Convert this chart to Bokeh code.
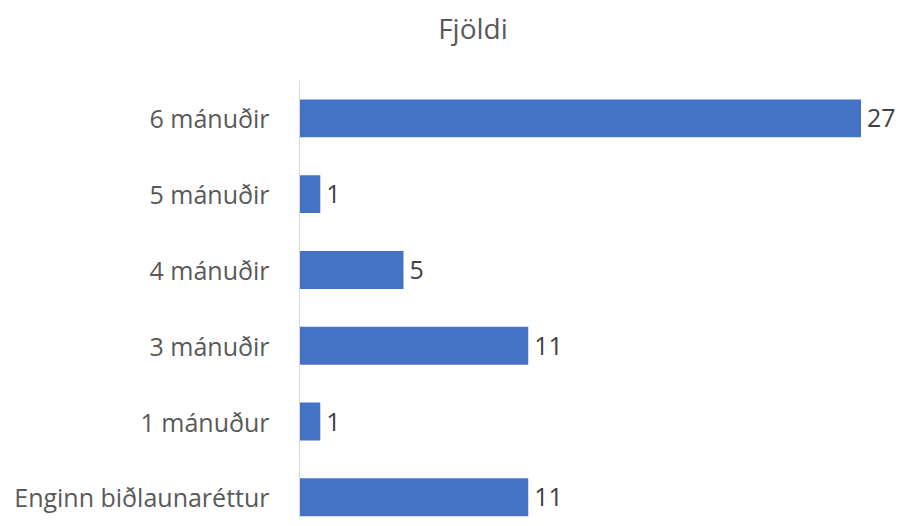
from bokeh.plotting import figure
from bokeh.models import Range1d, ColumnDataSource, Div
from bokeh.layouts import column
from bokeh.embed import file_html
from bokeh.resources import INLINE
from bokeh.core.properties import value

categories = ["Enginn biðlaunaréttur", "1 mánuður", "3 mánuðir", "4 mánuðir", "5 mánuðir", "6 mánuðir"]
counts = [11, 1, 11, 5, 1, 27]
title_text = "Fjöldi"

positions = list(range(len(categories)))
src = ColumnDataSource(dict(y=positions, v=counts, lbl=[str(c) for c in counts]))

p = figure(width=900, height=446, output_backend="svg", toolbar_location=None,
           x_range=Range1d(0, 28.9), y_range=Range1d(-0.28, 5.5),
           min_border_left=299, min_border_right=0, min_border_top=8, min_border_bottom=0)

p.hbar(y="y", right="v", left=0, height=0.5, source=src, fill_color="#4472C4", line_color=None)
p.text(x="v", y="y", text="lbl", source=src, x_offset=6, text_baseline="middle", text_align="left",
       text_font=value("Open Sans"), text_font_size="25px", text_color="#404040")

p.xaxis.visible = False
p.xgrid.visible = False
p.ygrid.visible = False
p.outline_line_color = None

ya = p.yaxis[0]
ya.ticker = positions
ya.major_label_overrides = {i: c for i, c in enumerate(categories)}
ya.major_tick_out = 0
ya.major_tick_in = 0
ya.minor_tick_out = 0
ya.minor_tick_in = 0
ya.axis_line_color = "#D9D9D9"
ya.axis_line_width = 1
ya.major_label_standoff = 30
ya.major_label_text_font = "Open Sans"
ya.major_label_text_font_size = "25px"
ya.major_label_text_color = "#595959"

title_html = ('<div style="margin:0;padding:9px 0 0 46px;width:900px;box-sizing:border-box;'
              "text-align:center;font-family:'Open Sans';font-size:28px;line-height:38px;"
              'color:#595959;">' + title_text + '</div>')
title = Div(text=title_html, width=900, height=72, styles={"margin": "0", "padding": "0"})

layout = column(title, p, spacing=0)

open("out.html", "w").write(file_html(layout, INLINE))
